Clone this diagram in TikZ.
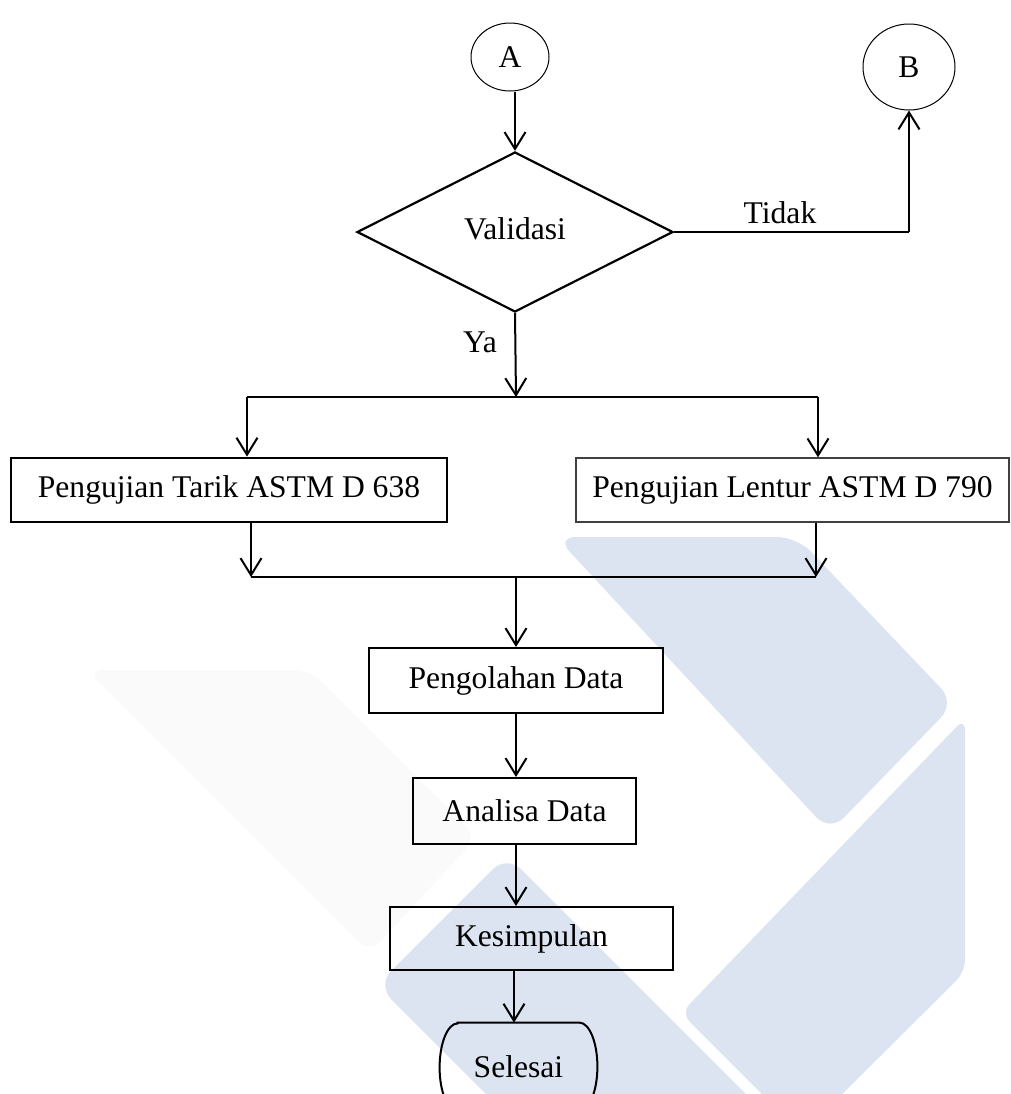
\documentclass[tikz,border=0pt]{standalone}
\usepackage{fontspec}
\setmainfont{Liberation Serif}
\usetikzlibrary{shapes.geometric,arrows.meta,calc}
\definecolor{wm}{HTML}{DCE3F1}
\definecolor{wmg}{HTML}{FAFAFA}
\begin{document}
\begin{tikzpicture}[x=0.5pt,y=0.5pt,
  font=\fontsize{15.8}{19}\selectfont,
  conn/.style={line width=1pt},
  arr/.style={line width=1pt,-{Straight Barb[length=8.5pt,width=10.5pt,line width=1pt]}},
  box/.style={draw,line width=1pt,rectangle,inner sep=0pt},
  conncirc/.style={draw,ellipse,line width=0.5pt,inner sep=0pt},
]
\clip (0,0) rectangle (1011,-1094);
% watermark
\fill[wmg, rounded corners=8] (87,-670) -- (310,-670) -- (477,-837) -- (370,-953) -- cycle;
\fill[wm, rounded corners=10] (556,-537) -- (797,-537) -- (955,-703) -- (830,-832) -- cycle;
\fill[wm, rounded corners=6] (965,-718) -- (965,-972) -- (802,-1134) -- (681,-1013) -- cycle;
\fill[wm, rounded corners=10] (507,-855) -- (800,-1148) -- (540,-1148) -- (377,-985) -- cycle;

% nodes
\node[conncirc, minimum width=39pt, minimum height=34pt] (A) at (510,-57) {A};
\node[conncirc, minimum width=46pt, minimum height=43pt] (B) at (909,-67) {B};
\node[diamond, draw, line width=1.1pt, minimum width=158pt, minimum height=80pt, inner sep=0pt] (D) at (515,-232) {\raisebox{3.5pt}{Validasi}};
\node (tidak) at (780,-213) {Tidak};
\node (ya) at (480,-342) {Ya};
\node[box, line width=1.4pt, minimum width=218pt, minimum height=32pt] (T) at (229,-490) {Pengujian Tarik ASTM D 638};
\node[box, draw=black!75, line width=0.7pt, minimum width=216.5pt, minimum height=32pt] (L) at (792.5,-490) {Pengujian Lentur ASTM D 790};
\node[box, minimum width=147pt, minimum height=32.5pt] (PD) at (516,-680.5) {Pengolahan Data};
\node[box, minimum width=111.5pt, minimum height=33pt] (AD) at (524.5,-811) {Analisa Data};
\node[box, minimum width=141.5pt, minimum height=31.5pt] (KS) at (531.5,-938.5) {Kesimpulan};
\node[minimum width=78.5pt, minimum height=44pt, inner sep=0pt] (SE) at (518.5,-1067) {Selesai};
\draw[line width=1pt] ($(SE.north west)+(18,0)$) -- ($(SE.north east)+(-18,0)$)
  arc[start angle=90,end angle=-90,x radius=9pt,y radius=22pt]
  -- ($(SE.south west)+(18,0)$)
  arc[start angle=270,end angle=90,x radius=9pt,y radius=22pt] -- cycle;

% coordinates
\coordinate (split) at (516,-397);
\coordinate (sl) at (247,-397);
\coordinate (sr) at (818,-397);
\coordinate (jl) at (251,-577);
\coordinate (jr) at (816,-577);
\coordinate (jm) at (516,-577);
\coordinate (tk) at (B.south |- D.east);
\coordinate (ksx) at (514,0);

% connectors
\draw[arr] (A.south -| D.north) -- (D.north);
\draw[conn] (D.east) -- (tk);
\draw[arr] (tk) -- (B.south);
\draw[arr] (D.south) -- (split);
\draw[conn] (sl) -- (sr);
\draw[arr] (sl) -- (sl |- T.north);
\draw[arr] (sr) -- (sr |- L.north);
\draw[arr] (jl |- T.south) -- (jl);
\draw[arr] (jr |- L.south) -- (jr);
\draw[conn] (jl) -- (jr);
\draw[arr] (jm) -- (PD.north);
\draw[arr] (PD.south) -- (AD.north -| PD.south);
\draw[arr] (AD.south -| PD.south) -- (KS.north -| PD.south);
\draw[arr] (KS.south -| ksx) -- (SE.north -| ksx);
\end{tikzpicture}
\end{document}
